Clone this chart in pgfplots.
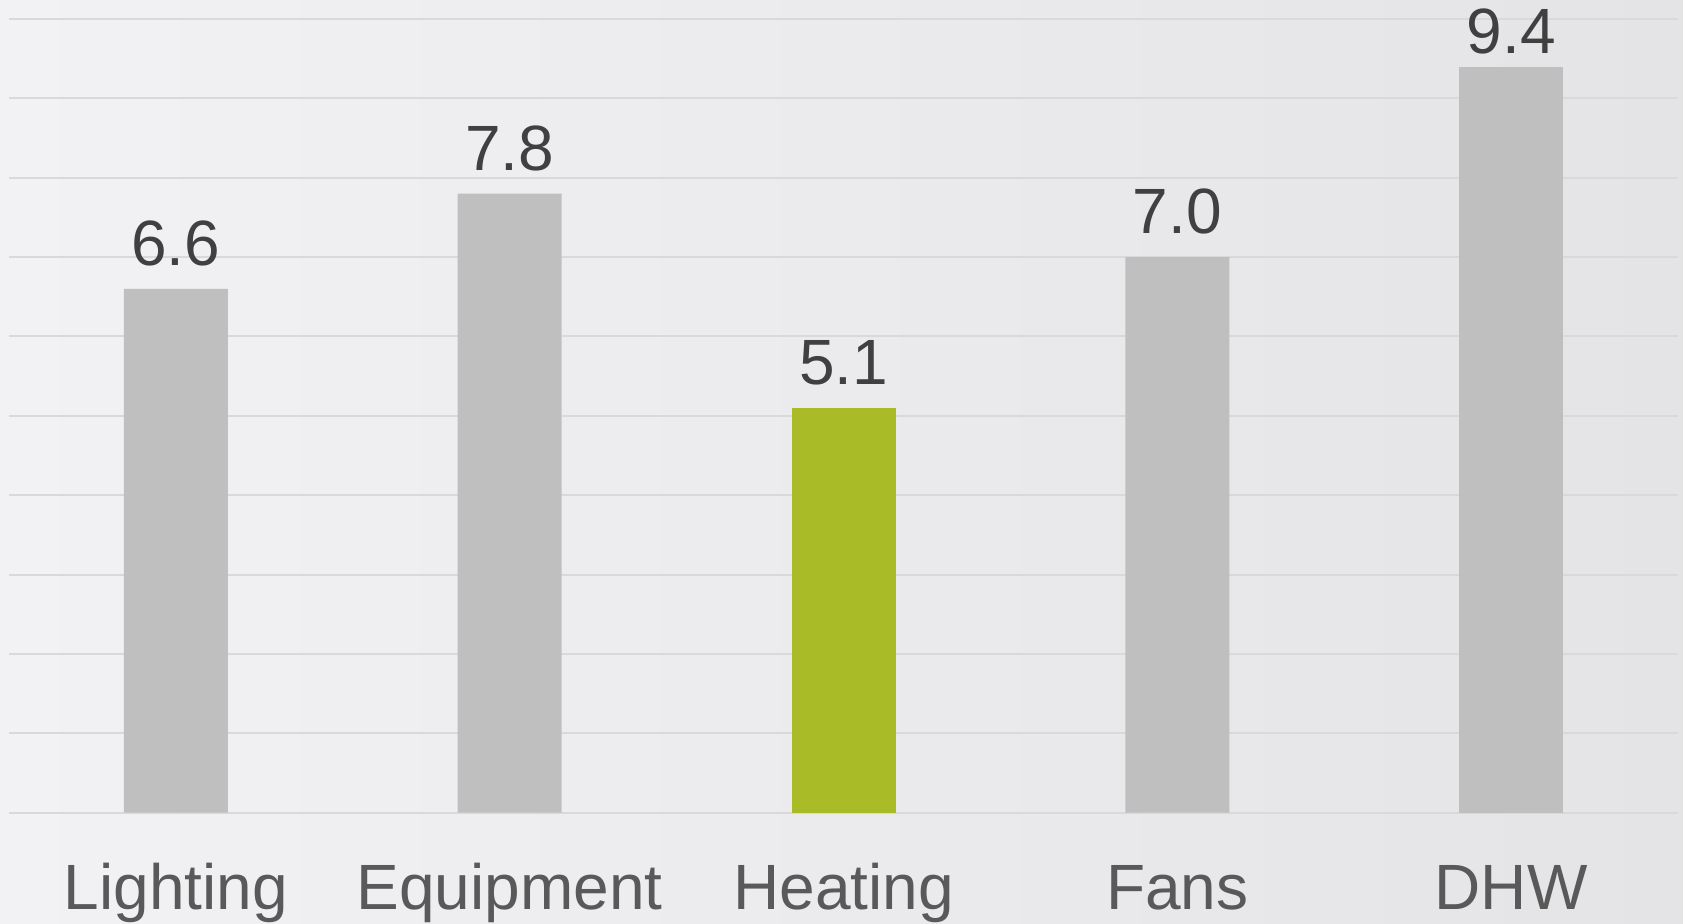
\documentclass[border=0pt]{standalone}
\usepackage{pgfplots}
\pgfplotsset{compat=1.18}
\usepackage{fontspec}
\setmainfont{Liberation Sans}
\definecolor{bgleft}{HTML}{F2F2F4}
\definecolor{bgright}{HTML}{E4E4E6}
\definecolor{gridgray}{HTML}{D9D9DB}
\definecolor{bargray}{HTML}{BFBFBF}
\definecolor{bargreen}{HTML}{A9BC27}
\definecolor{labelgray}{HTML}{595959}
\definecolor{valuegray}{HTML}{404040}
\begin{document}
\begin{tikzpicture}
% background panel (1px = 0.3pt)
\shade[left color=bgleft, right color=bgright] (-2.7pt,-33.39pt) rectangle (502.2pt,243.81pt);
\begin{axis}[
  at={(0pt,0pt)}, anchor=south west,
  scale only axis, width=500.7pt, height=238.1pt,
  xmin=-0.5, xmax=4.5, ymin=0, ymax=10,
  axis line style={draw=none},
  major tick length=0pt,
  ytick=\empty,
  xtick={0,1,2,3,4},
  xticklabels={Lighting,Equipment,Heating,Fans,DHW},
  xticklabel style={font=\fontsize{19.2pt}{22pt}\selectfont, text=labelgray,
    anchor=base, inner sep=0pt, yshift=-28.9pt},
  ybar, bar width=31.2pt, bar shift=0pt,
  clip=false,
  /pgf/number format/assume math mode=true,
  nodes near coords={\pgfmathprintnumber[fixed,fixed zerofill,precision=1,assume math mode=true]{\pgfplotspointmeta}},
  nodes near coords style={font=\fontsize{19.2pt}{22pt}\selectfont, text=valuegray,
    anchor=base, inner sep=0pt, yshift=7.0pt},
]
% horizontal guide lines
\pgfplotsinvokeforeach{0,1,...,10}{
  \draw[gridgray, line width=0.6pt] (axis cs:-0.5,#1) -- (axis cs:4.5,#1);
}
\addplot[fill=bargray, draw=none] coordinates {(0,6.6) (1,7.8) (3,7.0)};
\addplot[fill=bargreen, draw=none] coordinates {(2,5.1)};
% the tallest label sits a little closer to its bar
\addplot[fill=bargray, draw=none, nodes near coords style={yshift=-3.1pt}] coordinates {(4,9.4)};
\end{axis}
\pgfresetboundingbox
\useasboundingbox (-2.7pt,-33.39pt) rectangle (502.2pt,243.81pt);
\end{tikzpicture}
\end{document}
